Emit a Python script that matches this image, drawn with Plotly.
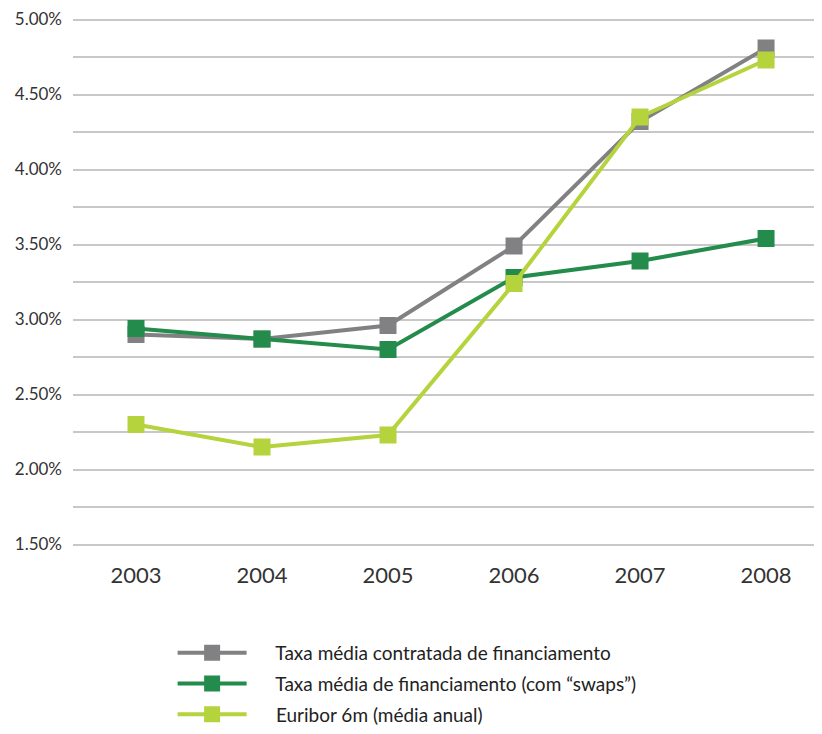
import plotly.graph_objects as go

years = ["2003", "2004", "2005", "2006", "2007", "2008"]
taxa_contratada = [2.90, 2.87, 2.96, 3.49, 4.32, 4.81]
taxa_swaps = [2.94, 2.87, 2.80, 3.28, 3.39, 3.54]
euribor = [2.30, 2.15, 2.23, 3.24, 4.35, 4.73]

names = [
    "Taxa média contratada de financiamento",
    "Taxa média de financiamento (com “swaps”)",
    "Euribor 6m (média anual)",
]
colors = ["#818184", "#238B4B", "#B5D33D"]
series = [taxa_contratada, taxa_swaps, euribor]

FONT = "Lato"
PAD = "\u00a0" * 5

fig = go.Figure()
for i, (name, color, vals) in enumerate(zip(names, colors, series)):
    fig.add_trace(go.Scatter(
        x=years, y=vals, name=PAD + name, mode="lines+markers",
        legendgroup=f"g{i}",
        line=dict(color=color, width=4),
        marker=dict(symbol="square", size=17, color=color),
    ))

fig.update_layout(
    width=822, height=734,
    margin=dict(l=65, r=8, t=10, b=190),
    paper_bgcolor="white", plot_bgcolor="white",
    font=dict(family=FONT, color="#333333"),
    showlegend=True,
    legend=dict(
        orientation="v", x=0.133, xanchor="left", y=-0.1667, yanchor="top",
        font=dict(size=19, color="#222222", family=FONT),
        itemwidth=69, tracegroupgap=3,
    ),
    xaxis=dict(
        type="category", range=[-0.5, 5.444], automargin=False,
        showgrid=False, showline=False, zeroline=False, ticks="",
        tickfont=dict(size=22, color="#333333"), ticklabelstandoff=14,
    ),
    yaxis=dict(
        range=[1.49, 5.01], tick0=1.5, dtick=0.5, tickformat=".2f", ticksuffix="%",
        automargin=False, ticklabeloverflow="allow",
        showgrid=True, gridcolor="#C8C8C8", gridwidth=2,
        minor=dict(tick0=1.5, dtick=0.25, showgrid=True, gridcolor="#C8C8C8", gridwidth=2),
        zeroline=False, showline=False, ticks="",
        tickfont=dict(size=17, color="#333333"), ticklabelstandoff=10,
    ),
)

fig.write_html("out.html")
